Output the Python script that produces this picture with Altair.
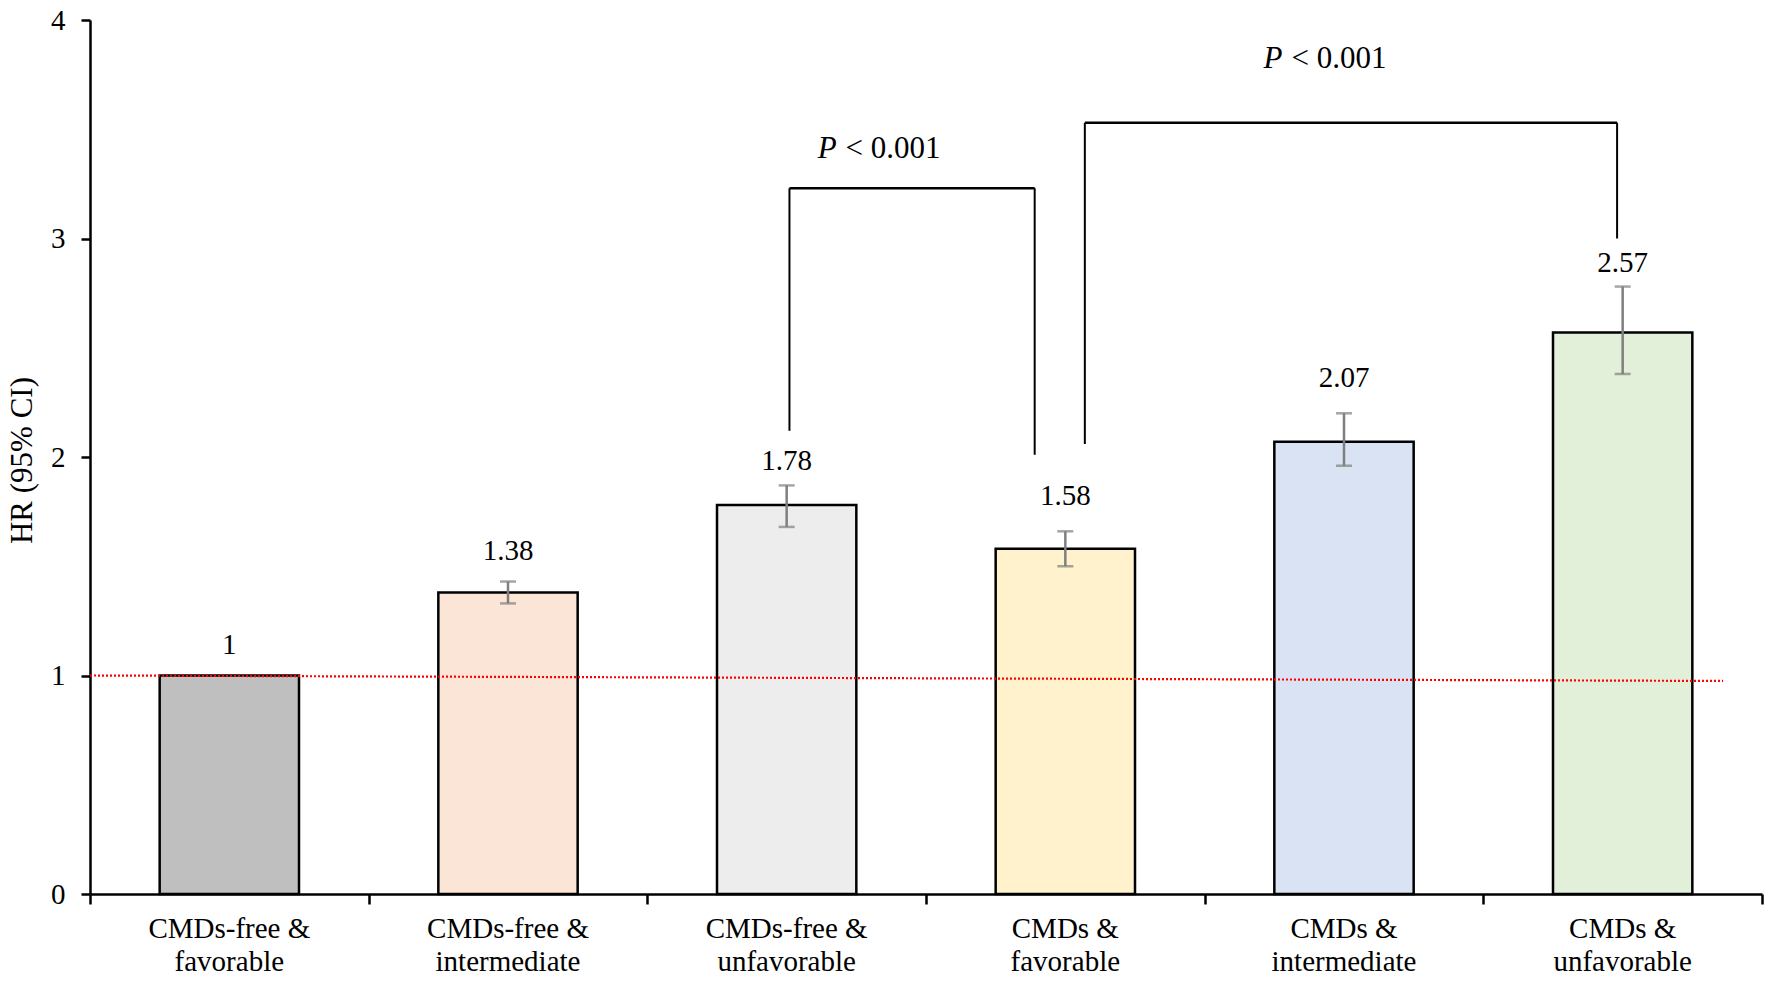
import altair as alt
import pandas as pd

# ---- data ----
categories = ["CMDs-free &\nfavorable", "CMDs-free &\nintermediate", "CMDs-free &\nunfavorable",
              "CMDs &\nfavorable", "CMDs &\nintermediate", "CMDs &\nunfavorable"]
hr = [1.00, 1.38, 1.78, 1.58, 2.07, 2.57]
hr_labels = ["1", "1.38", "1.78", "1.58", "2.07", "2.57"]
ci_low = [None, 1.33, 1.68, 1.50, 1.96, 2.38]
ci_high = [None, 1.43, 1.87, 1.66, 2.20, 2.78]
label_y = [1.14, 1.57, 1.98, 1.82, 2.36, 2.89]
fills = ["#BFBFBF", "#FBE5D6", "#EDEDED", "#FFF2CC", "#DAE3F3", "#E2F0D9"]

# significance brackets (x in category units, y in HR units)
br_x_left = [2.51, 3.57]
br_x_right = [3.39, 5.48]
br_y_left = [2.12, 2.06]
br_y_right = [2.01, 3.00]
br_y_top = [3.23, 3.53]
p_x = [2.69, 4.29]
p_y = [3.41, 3.82]

# reference line (HR = 1)
ref_x = [0.0, 5.86]
ref_y = [1.0, 0.975]

FONT = "Liberation Serif"
W, H = 1672, 874
XS = alt.Scale(domain=[0, 6], nice=False, zero=False)
YS = alt.Scale(domain=[0, 4], nice=False)
XAX = alt.Axis(values=[0, 1, 2, 3, 4, 5, 6], labels=False, title=None, grid=False, tickSize=10)
YAX = alt.Axis(values=[0, 1, 2, 3, 4], title="HR (95% CI)", grid=False,
               tickSize=9, labelPadding=16, titleX=-68, titleY=H / 2 + 3,
               titleAngle=-90, titleAlign="center", titleBaseline="middle",
               titleFontSize=31)


def X(field):
    return alt.X(field, scale=XS, axis=XAX)


def Y(field):
    return alt.Y(field, scale=YS, axis=YAX)


bars = pd.DataFrame({
    "idx": list(range(len(categories))),
    "cat": categories,
    "hr": hr,
    "lo": ci_low,
    "hi": ci_high,
    "lab": hr_labels,
    "laby": label_y,
    "fill": fills,
})
brackets = pd.DataFrame({
    "xl": br_x_left, "xr": br_x_right,
    "yl": br_y_left, "yr": br_y_right, "yt": br_y_top,
    "px": p_x, "py": p_y,
})
ref = pd.DataFrame({"x": ref_x, "y": ref_y})

base = alt.Chart(bars).transform_calculate(
    x0="datum.idx + 0.25", x1="datum.idx + 0.75", xc="datum.idx + 0.5"
)

rects = base.mark_rect(stroke="black", strokeWidth=2.5).encode(
    x=X("x0:Q"), x2="x1:Q",
    y=Y("hr:Q"), y2=alt.Y2(datum=0),
    fill=alt.Fill("fill:N", scale=None),
)

ERR = "#7F7F7F"
err = base.mark_rule(color=ERR, strokeWidth=2.5).encode(x=X("xc:Q"), y=Y("lo:Q"), y2="hi:Q")
cap_hi = base.mark_tick(orient="horizontal", size=16, thickness=2.5, color=ERR).encode(
    x=X("xc:Q"), y=Y("hi:Q"))
cap_lo = base.mark_tick(orient="horizontal", size=16, thickness=2.5, color=ERR).encode(
    x=X("xc:Q"), y=Y("lo:Q"))

vals = base.mark_text(font=FONT, fontSize=29, color="black", baseline="middle").encode(
    x=X("xc:Q"), y=Y("laby:Q"), text="lab:N")

cat_labels = base.mark_text(font=FONT, fontSize=29, color="black", baseline="middle",
                            lineBreak="\n", lineHeight=33).encode(
    x=X("xc:Q"), y=alt.value(H + 35), text="cat:N")

refline = alt.Chart(ref).mark_line(color="red", strokeWidth=2.2, strokeDash=[2, 2]).encode(
    x=X("x:Q"), y=Y("y:Q"))

bch = alt.Chart(brackets)
leg_l = bch.mark_rule(color="black", strokeWidth=2).encode(x=X("xl:Q"), y=Y("yl:Q"), y2="yt:Q")
leg_r = bch.mark_rule(color="black", strokeWidth=2).encode(x=X("xr:Q"), y=Y("yr:Q"), y2="yt:Q")
top = bch.mark_rule(color="black", strokeWidth=2.5).encode(x=X("xl:Q"), x2="xr:Q", y=Y("yt:Q"))
p_it = bch.mark_text(font=FONT, fontSize=31, fontStyle="italic", align="right",
                     baseline="middle", dx=-3).encode(
    x=X("px:Q"), y=Y("py:Q"), text=alt.value("P"))
p_rest = bch.mark_text(font=FONT, fontSize=31, align="left", baseline="middle", dx=6).encode(
    x=X("px:Q"), y=Y("py:Q"), text=alt.value("< 0.001"))

chart = alt.layer(
    rects, refline, err, cap_hi, cap_lo, vals, cat_labels, leg_l, leg_r, top, p_it, p_rest
).properties(
    width=W, height=H,
    autosize=alt.AutoSizeParams(type="none"),
    padding={"left": 82, "top": 12, "right": 3, "bottom": 88},
).configure_view(stroke=None).configure_axis(
    domainColor="black", domainWidth=2.5, tickColor="black", tickWidth=2.5,
    labelFont=FONT, labelFontSize=29, labelColor="black",
    titleFont=FONT, titleFontSize=29, titleFontWeight="normal", titleColor="black",
)

chart.save("out.html", embed_options={"renderer": "svg", "actions": False})
